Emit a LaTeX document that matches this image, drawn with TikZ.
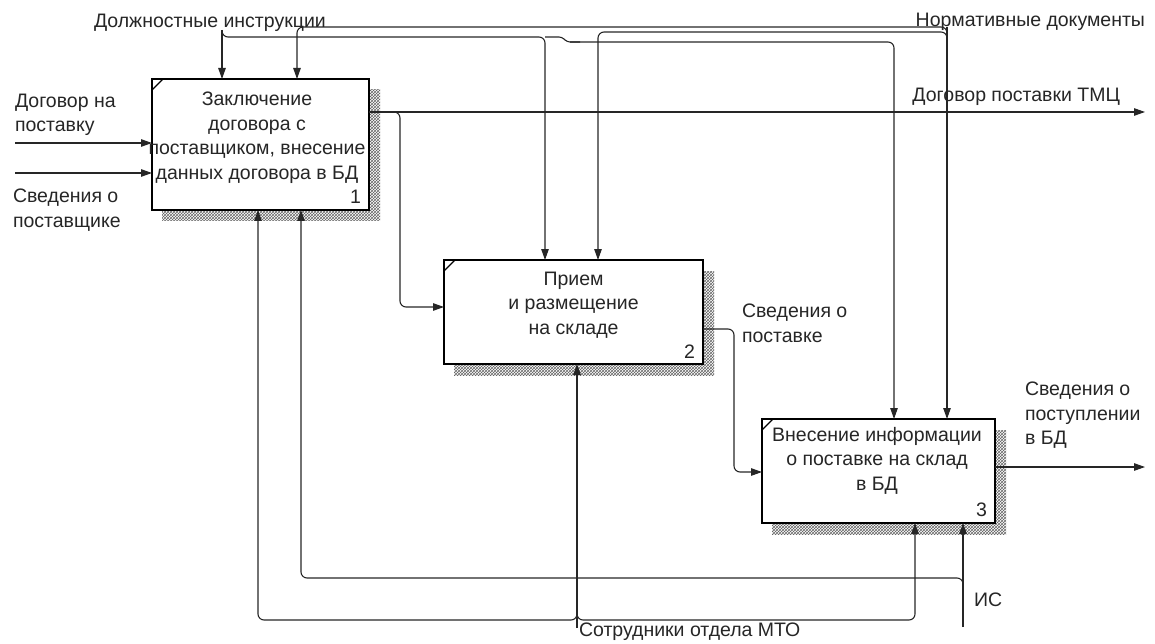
\documentclass[tikz,border=0pt]{standalone}
\usepackage{fontspec}
\setmainfont{Liberation Sans}
\usetikzlibrary{arrows.meta,patterns,calc}
\pgfdeclarelayer{background}
\pgfsetlayers{background,main}

\begin{document}
\begin{tikzpicture}[x=1pt,y=-1pt,
  every node/.style={inner sep=0pt, outer sep=0pt},
  txt/.style={font=\fontsize{19.5}{24.5}\selectfont, text=black!85, align=left},
  ctxt/.style={txt, align=center},
  func/.style={draw=black, line width=2pt, fill=white, rectangle},
  shade/.style={pattern=crosshatch, pattern color=black!60},
  flow/.style={draw=black!85, line width=1.1pt, rounded corners=6pt},
  arr/.style={-{Triangle[length=11pt,width=7.5pt]}},
]
\useasboundingbox (0,0) rectangle (1155,644);

% activity boxes
\node[func, minimum width=217pt, minimum height=131pt] (b1) at (260.5,144.5) {};
\node[func, minimum width=259pt, minimum height=104pt] (b2) at (573.5,312) {};
\node[func, minimum width=233pt, minimum height=104pt] (b3) at (878.5,471) {};

% hatched drop shadows
\begin{pgfonlayer}{background}
  \foreach \b in {b1,b2,b3}
    \fill[shade] ($(\b.north west)+(10,11)$) rectangle ($(\b.south east)+(11,11)$);
\end{pgfonlayer}

% corner ticks
\foreach \b in {b1,b2,b3}
  \draw[line width=1.2pt] (\b.north west) ++(0,11) -- ++(11,-11);

% box texts
\node[ctxt, anchor=north] (t1) at (257,92) {Заключение\\договора с\\поставщиком, внесение\\данных договора в БД};
\node[ctxt, anchor=north] (t2) at (573.5,272) {Прием\\и размещение\\на складе};
\node[ctxt, anchor=north] (t3) at (877,427) {Внесение информации\\о поставке на склад\\в БД};

% box numbers
\node[txt, anchor=south east] (n1) at ($(b1.south east)+(-8,-6)$) {1};
\node[txt, anchor=south east] (n2) at ($(b2.south east)+(-8,-6)$) {2};
\node[txt, anchor=south east] (n3) at ($(b3.south east)+(-8,-6)$) {3};

% arrow labels
\node[txt, anchor=base west] (lDI) at (94,28) {Должностные инструкции};
\node[txt, anchor=base east] (lND) at (1145,27) {Нормативные документы};
\node[txt, anchor=base east] (lDP) at (1120,102) {Договор поставки ТМЦ};
\node[txt, anchor=north west] (lDN) at (15,94) {Договор на\\поставку};
\node[txt, anchor=north west] (lSP) at (13,189) {Сведения о\\поставщике};
\node[txt, anchor=north west] (lSV) at (742,304) {Сведения о\\поставке};
\node[txt, anchor=north west] (lSB) at (1025,382) {Сведения о\\поступлении\\в БД};
\node[txt, anchor=north west] (lMT) at (579,623) {Сотрудники отдела МТО};
\node[txt, anchor=north west] (lIS) at (974,593) {ИС};

% free ends of the boundary arrows
\coordinate (in1) at (15,143);
\coordinate (in2) at (15,173);
\coordinate (out1) at (1145,112);
\coordinate (out3) at (1145,467);
\coordinate (cDI) at (222,30);
\coordinate (cND) at (947,27);
\coordinate (mMT) at (577,628);
\coordinate (mIS) at (963,627);

% inputs
\draw[flow,arr] (in1) -- (b1.west |- in1);
\draw[flow,arr] (in2) -- (b1.west |- in2);

% outputs
\draw[flow,arr] (b1.east |- out1) -- (out1);
\draw[flow,arr] (b1.east |- out1) -- (400,112) -- (400,307) -- (b2.west |- 0,307);
\draw[flow,arr] (b2.east |- 0,329) -- (734,329) -- (734,472) -- (b3.west |- 0,472);
\draw[flow,arr] (b3.east |- out3) -- (out3);

% controls: job instructions
\draw[flow,arr] (cDI) -- (222,0 |- b1.north);
\draw[flow,arr] (222,31) -- (222,37) -- (545,37) -- (545,0 |- b2.north);
\draw[flow,rounded corners=3pt] (545,37) -- (562,37) -- (567,42) -- (580,42);
\draw[flow,arr] (570,42) -- (894,42) -- (894,0 |- b3.north);

% controls: regulations
\draw[flow,arr] (cND) -- (947,0 |- b3.north);
\draw[flow,arr] (947,40) -- (947,32) -- (598,32) -- (598,0 |- b2.north);
\draw[flow,arr] (947,36) -- (947,27) -- (297,27) -- (297,0 |- b1.north);

% mechanisms: staff
\draw[flow,arr] (mMT) -- (577,0 |- b2.south);
\draw[flow,arr] (577,610) -- (577,620) -- (258,620) -- (258,0 |- b1.south);
\draw[flow,arr] (577,610) -- (577,620) -- (915,620) -- (915,0 |- b3.south);

% mechanisms: information system
\draw[flow,arr] (mIS) -- (963,0 |- b3.south);
\draw[flow,arr] (963,590) -- (963,578) -- (301,578) -- (301,0 |- b1.south);

\end{tikzpicture}
\end{document}
